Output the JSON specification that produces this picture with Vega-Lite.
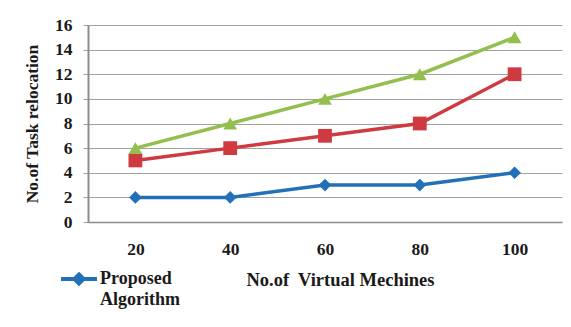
{
  "$schema": "https://vega.github.io/schema/vega-lite/v6.json",
  "width": 474,
  "height": 197,
  "autosize": {"type": "none"},
  "padding": {"left": 88, "top": 25, "right": 9, "bottom": 105},
  "background": "white",
  "config": {
    "font": "Liberation Serif",
    "axis": {"labelFont": "Liberation Serif", "titleFont": "Liberation Serif"},
    "legend": {"labelFont": "Liberation Serif", "titleFont": "Liberation Serif"},
    "view": {"stroke": null}
  },
  "data": {
    "values": [
      {"vms": 20, "series": "Proposed Algorithm", "relocations": 2},
      {"vms": 40, "series": "Proposed Algorithm", "relocations": 2},
      {"vms": 60, "series": "Proposed Algorithm", "relocations": 3},
      {"vms": 80, "series": "Proposed Algorithm", "relocations": 3},
      {"vms": 100, "series": "Proposed Algorithm", "relocations": 4},
      {"vms": 20, "series": "Existing Method 1", "relocations": 5},
      {"vms": 40, "series": "Existing Method 1", "relocations": 6},
      {"vms": 60, "series": "Existing Method 1", "relocations": 7},
      {"vms": 80, "series": "Existing Method 1", "relocations": 8},
      {"vms": 100, "series": "Existing Method 1", "relocations": 12},
      {"vms": 20, "series": "Existing Method 2", "relocations": 6},
      {"vms": 40, "series": "Existing Method 2", "relocations": 8},
      {"vms": 60, "series": "Existing Method 2", "relocations": 10},
      {"vms": 80, "series": "Existing Method 2", "relocations": 12},
      {"vms": 100, "series": "Existing Method 2", "relocations": 15}
    ]
  },
  "encoding": {
    "x": {
      "field": "vms",
      "type": "ordinal",
      "sort": [20, 40, 60, 80, 100],
      "scale": {"type": "point", "padding": 0.5},
      "axis": {
        "title": "No.of\u00a0 Virtual Mechines",
        "titleFontSize": 18.5,
        "titleFontWeight": "bold",
        "titleColor": "#1a1a1a",
        "titleX": 252,
        "titleY": 57,
        "titleAlign": "center",
        "titleBaseline": "middle",
        "labelAngle": 0,
        "labelFontSize": 17.5,
        "labelFontWeight": "bold",
        "labelColor": "#1a1a1a",
        "labelBaseline": "top",
        "labelPadding": 18,
        "ticks": false,
        "grid": false,
        "domainColor": "#8c8c8c",
        "domainWidth": 1.5
      }
    },
    "y": {
      "field": "relocations",
      "type": "quantitative",
      "scale": {"domain": [0, 16], "nice": false},
      "axis": {
        "title": "No.of Task relocation",
        "titleFontSize": 17.5,
        "titleFontWeight": "bold",
        "titleColor": "#1a1a1a",
        "titleX": -56,
        "titleY": 98.5,
        "titleAngle": -90,
        "titleAlign": "center",
        "titleBaseline": "middle",
        "values": [0, 2, 4, 6, 8, 10, 12, 14, 16],
        "labelFontSize": 17.5,
        "labelFontWeight": "bold",
        "labelColor": "#1a1a1a",
        "labelPadding": 11,
        "tickSize": 5,
        "tickColor": "#a0a0a0",
        "grid": true,
        "gridColor": "#a0a0a0",
        "gridWidth": 1,
        "domainColor": "#8c8c8c",
        "domainWidth": 2
      }
    },
    "color": {
      "field": "series",
      "type": "nominal",
      "scale": {
        "domain": ["Proposed Algorithm", "Existing Method 1", "Existing Method 2"],
        "range": ["#2271B8", "#CF3A41", "#93BF4E"]
      },
      "legend": {
        "orient": "none",
        "legendX": -29,
        "legendY": 234,
        "title": null,
        "values": ["Proposed Algorithm"],
        "symbolType": "M-1,0H1M0,-0.25L0.25,0L0,0.25L-0.25,0Z",
        "symbolSize": 1296,
        "symbolStrokeWidth": 4,
        "labelFontSize": 18,
        "labelFontWeight": "bold",
        "labelColor": "#1a1a1a",
        "labelOffset": 1,
        "labelLimit": 300,
        "labelExpr": "split(datum.label, ' ')",
        "padding": 0,
        "encode": {
          "symbols": {"update": {
            "fill": {"value": "#2271B8"},
            "stroke": {"value": "#2271B8"},
            "strokeWidth": {"value": 4},
            "opacity": {"value": 1}
          }},
          "labels": {"update": {"lineHeight": {"value": 21}}}
        }
      }
    }
  },
  "layer": [
    {"mark": {"type": "line", "strokeWidth": 3.5}},
    {
      "transform": [{"filter": "datum.series === 'Proposed Algorithm'"}],
      "mark": {"type": "point", "shape": "diamond", "filled": true, "opacity": 1, "size": 160}
    },
    {
      "transform": [{"filter": "datum.series === 'Existing Method 1'"}],
      "mark": {"type": "point", "shape": "square", "filled": true, "opacity": 1, "size": 190}
    },
    {
      "transform": [{"filter": "datum.series === 'Existing Method 2'"}],
      "mark": {"type": "point", "shape": "triangle-up", "filled": true, "opacity": 1, "size": 190}
    }
  ]
}
